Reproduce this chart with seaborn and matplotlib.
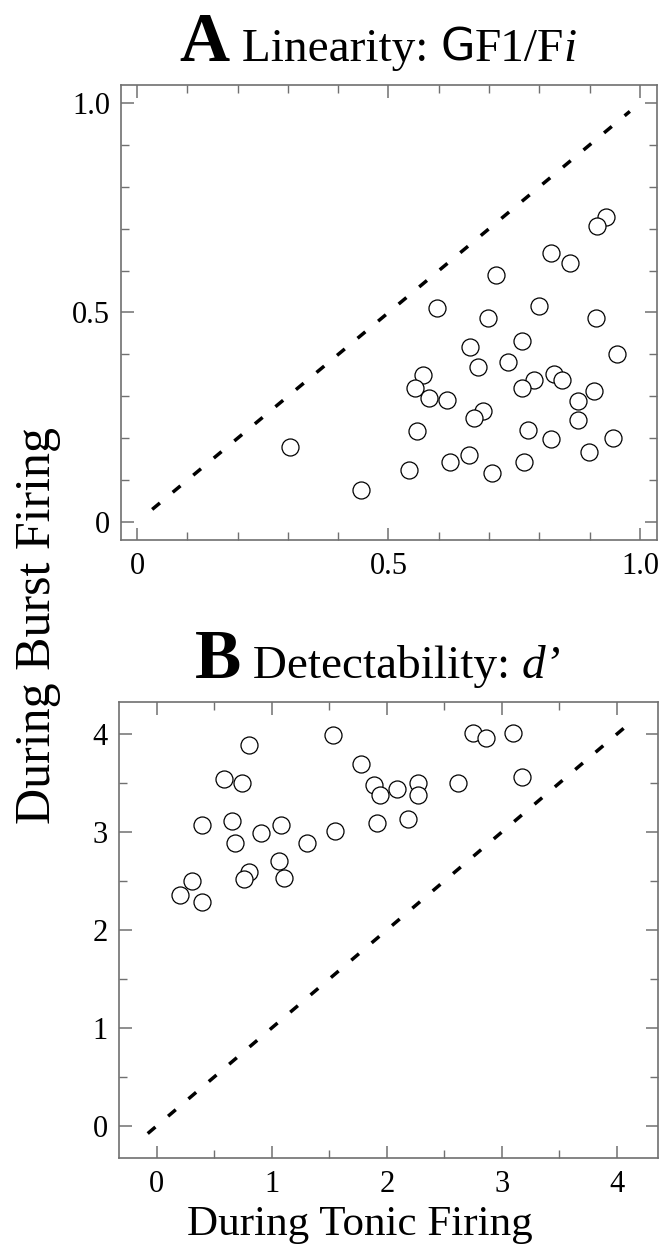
import matplotlib
matplotlib.use("Agg")
import matplotlib.pyplot as plt
from matplotlib.offsetbox import TextArea, HPacker, AnchoredOffsetbox
from matplotlib.ticker import MultipleLocator, FixedLocator, FixedFormatter
import seaborn as sns
import pandas as pd

# panel A: linearity (F1/Fi), tonic vs burst
lin_tonic = [0.932, 0.915, 0.824, 0.860, 0.714, 0.596, 0.800, 0.698, 0.912, 0.662,
             0.765, 0.955, 0.737, 0.678, 0.568, 0.829, 0.845, 0.789, 0.552, 0.765,
             0.908, 0.581, 0.617, 0.876, 0.687, 0.671, 0.876, 0.556, 0.777, 0.824,
             0.947, 0.305, 0.899, 0.661, 0.623, 0.769, 0.540, 0.706, 0.446]
lin_burst = [0.727, 0.707, 0.641, 0.618, 0.589, 0.511, 0.515, 0.488, 0.488, 0.417,
             0.431, 0.401, 0.382, 0.369, 0.351, 0.354, 0.339, 0.339, 0.319, 0.319,
             0.313, 0.296, 0.291, 0.289, 0.264, 0.249, 0.244, 0.216, 0.220, 0.197,
             0.201, 0.178, 0.168, 0.161, 0.144, 0.144, 0.125, 0.118, 0.077]

# panel B: detectability d'
det_tonic = [1.533, 0.803, 2.749, 2.867, 3.098, 1.778, 0.581, 0.737, 1.892, 1.937,
             2.092, 2.270, 2.270, 2.616, 3.175, 0.390, 0.651, 1.083, 1.917, 2.181,
             0.905, 1.552, 0.683, 1.308, 1.063, 0.803, 0.762, 1.108, 0.305, 0.197,
             0.394]
det_burst = [3.99, 3.887, 4.01, 3.966, 4.01, 3.70, 3.539, 3.498, 3.478, 3.379,
             3.437, 3.498, 3.379, 3.498, 3.560, 3.072, 3.109, 3.072, 3.096, 3.130,
             2.993, 3.010, 2.887, 2.887, 2.703, 2.590, 2.522, 2.532, 2.505, 2.355,
             2.287]

# unity lines
diag_a = [0.03, 0.98]
diag_b = [-0.08, 4.1]

sns.set_theme(style="ticks")
plt.rcParams["font.family"] = ["Liberation Serif", "DejaVu Serif"]

W, H = 671, 1257
fig = plt.figure(figsize=(W / 100, H / 100), dpi=100)

ax_a = fig.add_axes([121 / W, 1 - 540 / H, (657 - 121) / W, (540 - 85) / H])
ax_b = fig.add_axes([119 / W, 1 - 1158 / H, (658 - 119) / W, (1158 - 702) / H])

spine_col = "#707070"


def draw_panel(ax, x, y, diag):
    df = pd.DataFrame({"tonic": x, "burst": y})
    line = pd.DataFrame({"x": diag, "y": diag})
    sns.lineplot(data=line, x="x", y="y", ax=ax, color="black", linewidth=2.5,
                 dashes=False, zorder=2)
    ax.lines[-1].set_dashes((2.9, 4.8))
    sns.scatterplot(data=df, x="tonic", y="burst", ax=ax, s=150, facecolor="white",
                    edgecolor="black", linewidth=0.9, zorder=3)
    ax.set_xlabel("")
    ax.set_ylabel("")
    for sp in ax.spines.values():
        sp.set_visible(True)
        sp.set_color(spine_col)
        sp.set_linewidth(1.2)
    ax.tick_params(which="both", direction="in", top=True, right=True,
                   color=spine_col, labelsize=22, labelcolor="black", pad=8)
    ax.tick_params(which="major", length=9, width=1.1)
    ax.tick_params(which="minor", length=6, width=1.0)
    ax.tick_params(axis="x", which="major", pad=9)


draw_panel(ax_a, lin_tonic, lin_burst, diag_a)
ax_a.set_xlim(-0.032, 1.034)
ax_a.set_ylim(-0.043, 1.043)
for axis in (ax_a.xaxis, ax_a.yaxis):
    axis.set_major_locator(FixedLocator([0, 0.5, 1.0]))
    axis.set_major_formatter(FixedFormatter(["0", "0.5", "1.0"]))
    axis.set_minor_locator(MultipleLocator(0.1))

draw_panel(ax_b, det_tonic, det_burst, diag_b)
ax_b.set_xlim(-0.33, 4.36)
ax_b.set_ylim(-0.33, 4.33)
for axis in (ax_b.xaxis, ax_b.yaxis):
    axis.set_major_locator(MultipleLocator(1))
    axis.set_minor_locator(MultipleLocator(0.5))
    axis.set_major_formatter(plt.FuncFormatter(lambda v, p: f"{v:.0f}"))


def title_box(ax, parts, xanchor, yanchor):
    kids = [TextArea(t, textprops=props) for t, props in parts]
    box = HPacker(children=kids, align="baseline", pad=0, sep=0)
    anc = AnchoredOffsetbox(loc="lower center", child=box, pad=0, borderpad=0,
                            frameon=False, bbox_to_anchor=(xanchor, yanchor),
                            bbox_transform=ax.transAxes)
    ax.add_artist(anc)


serif = ["Liberation Serif", "DejaVu Serif"]
big = dict(family=serif, size=50, weight="bold", color="black")
reg = dict(family=serif, size=34, color="black")
ital = dict(family=serif, size=34, style="italic", color="black")
sans = dict(family=["DejaVu Sans"], size=32, color="black")

title_box(ax_a, [("A", big), (" Linearity: ", reg), ("G", sans), ("F1/F", reg), ("i", ital)],
          0.48, 1.02)
title_box(ax_b, [("B", big), (" Detectability: ", reg), ("d’", ital)], 0.48, 1.02)

fig.text(38 / W, 1 - 625 / H, "During Burst Firing", rotation=90, ha="center",
         va="center", fontsize=36, color="black")
fig.text(360 / W, 1 - 1225 / H, "During Tonic Firing", ha="center", va="center",
         fontsize=31, color="black")

fig.savefig("out.png", dpi=100)
